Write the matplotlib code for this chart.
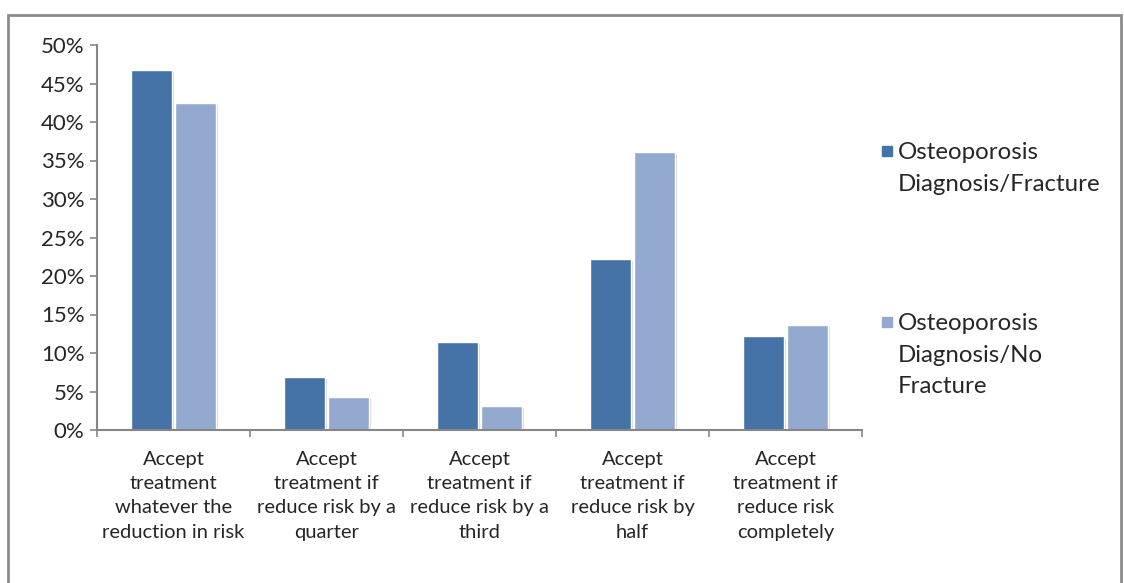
import matplotlib
matplotlib.use("Agg")
import matplotlib.pyplot as plt
import matplotlib.patheffects as pe
from matplotlib.patches import Rectangle
from matplotlib.ticker import PercentFormatter, FixedLocator
import numpy as np

plt.rcParams['font.family'] = ['Lato', 'DejaVu Sans']

# data
categories = ["Accept\ntreatment\nwhatever the\nreduction in risk",
              "Accept\ntreatment if\nreduce risk by a\nquarter",
              "Accept\ntreatment if\nreduce risk by a\nthird",
              "Accept\ntreatment if\nreduce risk by\nhalf",
              "Accept\ntreatment if\nreduce risk\ncompletely"]
fracture = [46.8, 6.9, 11.4, 22.2, 12.2]
no_fracture = [42.5, 4.3, 3.1, 36.1, 13.7]
series_names = ["Osteoporosis\nDiagnosis/Fracture",
                "Osteoporosis\nDiagnosis/No\nFracture"]
colors = ["#4572A7", "#93A9D0"]
text_color = "#262626"
axis_color = "#868686"

fig = plt.figure(figsize=(11.24, 5.83), dpi=100)
ax = fig.add_axes([97/1124, 1 - 430/583, 765/1124, 385/583])

x = np.arange(len(categories))
width = 0.268
offset = 0.144
shadow = [pe.SimplePatchShadow(offset=(1.5, -1.5), shadow_rgbFace="#b0b0b0", alpha=0.5), pe.Normal()]
for vals, col, off in zip([fracture, no_fracture], colors, [-offset, offset]):
    bars = ax.bar(x + off, vals, width, color=col, edgecolor="white", linewidth=1, zorder=2)
    for b in bars:
        b.set_path_effects(shadow)

ax.set_xlim(-0.5, len(categories) - 0.5)
ax.set_ylim(0, 50)
ax.set_yticks(np.arange(0, 51, 5))
ax.yaxis.set_major_formatter(PercentFormatter(decimals=0))
ax.tick_params(axis='y', direction='out', length=5, color=axis_color, width=1.2,
               labelsize=16, labelcolor=text_color, pad=4)

ax.xaxis.set_major_locator(FixedLocator(np.arange(-0.5, len(categories), 1)))
ax.xaxis.set_minor_locator(FixedLocator(x))
ax.set_xticklabels([], minor=False)
ax.set_xticklabels(categories, minor=True)
ax.tick_params(axis='x', which='major', direction='out', length=5, color=axis_color, width=1.2)
ax.tick_params(axis='x', which='minor', length=0, labelsize=14.5, labelcolor=text_color, pad=15)
for lbl in ax.get_xticklabels(minor=True):
    lbl.set_linespacing(1.52)

for s in ["top", "right"]:
    ax.spines[s].set_visible(False)
for s in ["left", "bottom"]:
    ax.spines[s].set_color(axis_color)
    ax.spines[s].set_linewidth(1.5)

# legend drawn by hand so markers sit on the first line like in the original
legend_y = [151, 322]
for name, col, ly in zip(series_names, colors, legend_y):
    fig.patches.append(Rectangle((882/1124, 1 - (ly + 5)/583), 10/1124, 10/583,
                                 transform=fig.transFigure, color=col))
    fig.text(898/1124, 1 - (ly - 9)/583, name, fontsize=17.3, color=text_color,
             va='top', ha='left', linespacing=1.63)

# outer chart border
fig.patches.append(Rectangle((8/1124, -0.05), 1113/1124, 1 - 15/583 + 0.05,
                             transform=fig.transFigure, fill=False,
                             edgecolor="#8c8c8c", linewidth=2))

fig.savefig("out.png", dpi=100)
